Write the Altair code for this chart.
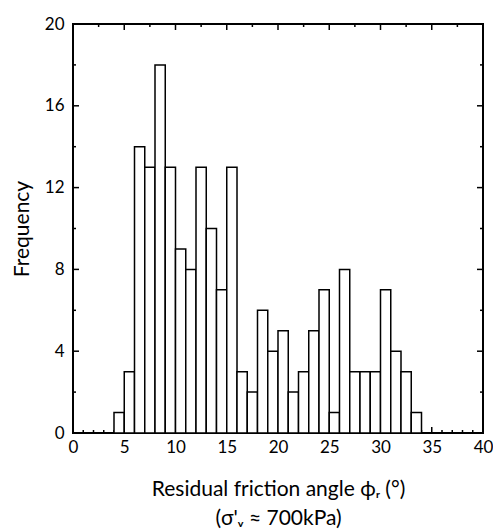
import altair as alt
import pandas as pd

# Histogram bins (width 1 degree) and counts
bin_start = list(range(4, 34))
counts = [1, 3, 14, 13, 18, 13, 9, 8, 13, 10, 7, 13, 3, 2, 6, 4, 5, 2, 3, 5,
          7, 1, 8, 3, 3, 3, 7, 4, 3, 1]

x_labels = [0, 5, 10, 15, 20, 25, 30, 35, 40]
y_labels = [0, 4, 8, 12, 16, 20]

bottom_minor = [v for v in range(1, 40) if v % 5 != 0]
bottom_major = [5, 10, 15, 20, 25, 30, 35]
top_minor = [2.5, 7.5, 12.5, 17.5, 22.5, 27.5, 32.5, 37.5]
top_major = [5, 10, 15, 20, 25, 30, 35]
side_minor = [2, 6, 10, 14, 18]
side_major = [4, 8, 12, 16]

W, H = 410, 409
FONT = "Lato"

bars = pd.DataFrame({"start": bin_start,
                     "end": [b + 1 for b in bin_start],
                     "count": counts,
                     "base": [0] * len(bin_start)})

xs = alt.Scale(domain=[0, 40], nice=False, zero=False)
ys = alt.Scale(domain=[0, 20], nice=False)

x_axis = alt.Axis(values=x_labels, ticks=False, domain=False, grid=False,
                  labelFont=FONT, labelFontSize=17, labelColor="black",
                  labelPadding=6, labelFlush=False,
                  title=["Residual friction angle ϕᵣ (°)", "(σ'ᵥ ≈ 700kPa)"],
                  titleFont=FONT, titleFontSize=21, titleFontWeight="normal",
                  titleColor="black", titlePadding=23, titleLineHeight=29)
y_axis = alt.Axis(values=y_labels, ticks=False, domain=False, grid=False,
                  labelFont=FONT, labelFontSize=17, labelColor="black",
                  labelPadding=9, labelFlush=False,
                  title="Frequency", titleFont=FONT, titleFontSize=21,
                  titleFontWeight="normal", titleColor="black",
                  titlePadding=12)


def xticks(vals, y1, y2):
    return alt.Chart(pd.DataFrame({"v": vals})).mark_rule(
        color="black", strokeWidth=1.5).encode(
        x=alt.X("v:Q", scale=xs), y=alt.value(y1), y2=alt.value(y2))


def yticks(vals, x1, x2):
    return alt.Chart(pd.DataFrame({"v": vals})).mark_rule(
        color="black", strokeWidth=1.5).encode(
        y=alt.Y("v:Q", scale=ys), x=alt.value(x1), x2=alt.value(x2))


ticks = [
    xticks(bottom_minor, H, H - 3),
    xticks(bottom_major, H, H - 6),
    xticks(top_minor, 0, 3),
    xticks(top_major, 0, 6),
    yticks(side_minor, 0, 3),
    yticks(side_major, 0, 6),
    yticks(side_minor, W, W - 3),
    yticks(side_major, W, W - 6),
]

hist = alt.Chart(bars).mark_bar(fill="white", stroke="black",
                                strokeWidth=1.5).encode(
    x=alt.X("start:Q", scale=xs, axis=x_axis),
    x2="end:Q",
    y=alt.Y("count:Q", scale=ys, axis=y_axis),
    y2="base:Q",
)

chart = alt.layer(*ticks, hist).properties(
    width=W, height=H,
    background="white",
    autosize=alt.AutoSizeParams(type="none"),
    padding={"left": 73, "top": 24, "right": 10, "bottom": 99},
).configure_view(stroke="black", strokeWidth=2)

chart.save("out.html", embed_options={"renderer": "svg", "actions": False})
